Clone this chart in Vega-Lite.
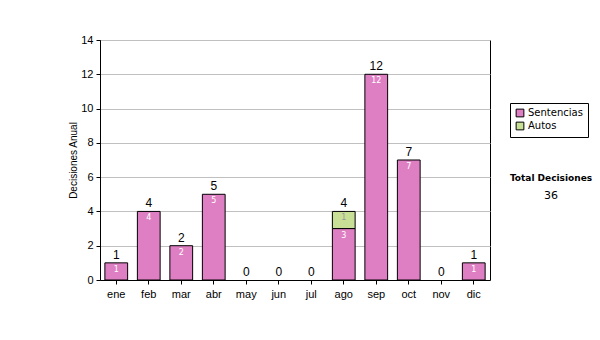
{
  "$schema": "https://vega.github.io/schema/vega-lite/v6.json",
  "width": 390,
  "height": 240,
  "autosize": "none",
  "padding": {"left": 100, "top": 40, "right": 110, "bottom": 60},
  "background": "white",
  "config": {
    "view": {"stroke": "black", "strokeWidth": 1},
    "font": "Liberation Sans",
    "axis": {"labelFont": "Liberation Sans", "titleFont": "Liberation Sans"}
  },
  "title": {
    "text": "Total Decisiones",
    "subtitle": "36",
    "anchor": "end",
    "frame": "group",
    "orient": "top",
    "align": "center",
    "dx": 61,
    "dy": 171,
    "font": "DejaVu Sans",
    "fontSize": 9,
    "fontWeight": "bold",
    "color": "black",
    "subtitleFont": "DejaVu Sans",
    "subtitleFontSize": 11,
    "subtitleColor": "black",
    "subtitlePadding": 7
  },
  "datasets": {
    "bars": [
      {"mes": "ene", "tipo": "Sentencias", "orden": 1, "valor": 1},
      {"mes": "feb", "tipo": "Sentencias", "orden": 1, "valor": 4},
      {"mes": "mar", "tipo": "Sentencias", "orden": 1, "valor": 2},
      {"mes": "abr", "tipo": "Sentencias", "orden": 1, "valor": 5},
      {"mes": "may", "tipo": "Sentencias", "orden": 1, "valor": 0},
      {"mes": "jun", "tipo": "Sentencias", "orden": 1, "valor": 0},
      {"mes": "jul", "tipo": "Sentencias", "orden": 1, "valor": 0},
      {"mes": "ago", "tipo": "Sentencias", "orden": 1, "valor": 3},
      {"mes": "sep", "tipo": "Sentencias", "orden": 1, "valor": 12},
      {"mes": "oct", "tipo": "Sentencias", "orden": 1, "valor": 7},
      {"mes": "nov", "tipo": "Sentencias", "orden": 1, "valor": 0},
      {"mes": "dic", "tipo": "Sentencias", "orden": 1, "valor": 1},
      {"mes": "ago", "tipo": "Autos", "orden": 2, "valor": 1}
    ],
    "totals": [
      {"mes": "ene", "total": 1},
      {"mes": "feb", "total": 4},
      {"mes": "mar", "total": 2},
      {"mes": "abr", "total": 5},
      {"mes": "may", "total": 0},
      {"mes": "jun", "total": 0},
      {"mes": "jul", "total": 0},
      {"mes": "ago", "total": 4},
      {"mes": "sep", "total": 12},
      {"mes": "oct", "total": 7},
      {"mes": "nov", "total": 0},
      {"mes": "dic", "total": 1}
    ]
  },
  "encoding": {
    "x": {
      "field": "mes",
      "type": "nominal",
      "sort": ["ene", "feb", "mar", "abr", "may", "jun", "jul", "ago", "sep", "oct", "nov", "dic"],
      "scale": {"paddingInner": 0.3, "paddingOuter": 0.15},
      "axis": {
        "title": null,
        "labelAngle": 0,
        "labelFontSize": 11,
        "labelColor": "black",
        "labelPadding": 4,
        "tickColor": "black",
        "tickSize": 4,
        "domainColor": "black"
      }
    }
  },
  "layer": [
    {
      "data": {"name": "bars"},
      "transform": [
        {"filter": "datum.valor > 0"},
        {"stack": "valor", "groupby": ["mes"], "sort": [{"field": "orden"}], "as": ["y0", "y1"]}
      ],
      "mark": {"type": "bar", "stroke": "black", "strokeWidth": 1, "opacity": 1},
      "encoding": {
        "y": {
          "field": "y1",
          "type": "quantitative",
          "scale": {"domain": [0, 14], "nice": false},
          "axis": {
            "title": "Decisiones Anual",
            "titleFontSize": 10,
            "titleFontWeight": "normal",
            "titleColor": "black",
            "titlePadding": 2,
            "values": [0, 2, 4, 6, 8, 10, 12, 14],
            "labelOverlap": false,
            "labelFontSize": 11,
            "labelColor": "black",
            "labelPadding": 3,
            "tickColor": "black",
            "tickSize": 4,
            "domainColor": "black",
            "gridColor": "#c0c0c0",
            "gridWidth": 1,
            "grid": true
          }
        },
        "y2": {"field": "y0"},
        "color": {
          "field": "tipo",
          "type": "nominal",
          "scale": {"domain": ["Sentencias", "Autos"], "range": ["#df7fc3", "#c8e096"]},
          "legend": {
            "title": null,
            "orient": "none",
            "legendX": 410,
            "legendY": 63,
            "symbolType": "square",
            "symbolSize": 60,
            "symbolStrokeColor": "black",
            "symbolStrokeWidth": 1,
            "symbolOpacity": 1,
            "labelFont": "DejaVu Sans",
            "labelFontSize": 10,
            "labelColor": "black",
            "rowPadding": 1,
            "labelOffset": 3,
            "padding": 5,
            "fillColor": "white",
            "strokeColor": "black"
          }
        }
      }
    },
    {
      "data": {"name": "bars"},
      "transform": [
        {"filter": "datum.valor > 0"},
        {"stack": "valor", "groupby": ["mes"], "sort": [{"field": "orden"}], "as": ["y0", "y1"]}
      ],
      "mark": {"type": "text", "baseline": "top", "dy": 3, "fontSize": 8, "font": "DejaVu Sans"},
      "encoding": {
        "y": {
          "field": "y1",
          "type": "quantitative",
          "axis": {
            "title": "Decisiones Anual",
            "titleFontSize": 10,
            "titleFontWeight": "normal",
            "titleColor": "black",
            "titlePadding": 2,
            "values": [0, 2, 4, 6, 8, 10, 12, 14],
            "labelOverlap": false,
            "labelFontSize": 11,
            "labelColor": "black",
            "labelPadding": 3,
            "tickColor": "black",
            "tickSize": 4,
            "domainColor": "black",
            "gridColor": "#c0c0c0",
            "gridWidth": 1,
            "grid": true
          }
        },
        "text": {"field": "valor", "type": "quantitative"},
        "fill": {
          "field": "tipo",
          "type": "nominal",
          "scale": {"domain": ["Sentencias", "Autos"], "range": ["#ffffff", "#999999"]},
          "legend": null
        }
      }
    },
    {
      "data": {"name": "totals"},
      "mark": {"type": "text", "baseline": "bottom", "dy": -1, "fontSize": 12, "color": "black"},
      "encoding": {
        "y": {
          "field": "total",
          "type": "quantitative",
          "axis": {
            "title": "Decisiones Anual",
            "titleFontSize": 10,
            "titleFontWeight": "normal",
            "titleColor": "black",
            "titlePadding": 2,
            "values": [0, 2, 4, 6, 8, 10, 12, 14],
            "labelOverlap": false,
            "labelFontSize": 11,
            "labelColor": "black",
            "labelPadding": 3,
            "tickColor": "black",
            "tickSize": 4,
            "domainColor": "black",
            "gridColor": "#c0c0c0",
            "gridWidth": 1,
            "grid": true
          }
        },
        "text": {"field": "total", "type": "quantitative"}
      }
    }
  ]
}
